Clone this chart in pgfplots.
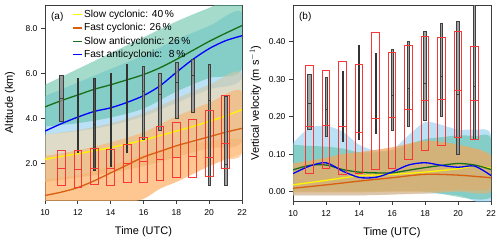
\documentclass[border=0pt]{standalone}
\usepackage{pgfplots}
\pgfplotsset{compat=1.18}
\usepackage{fontspec}
\setmainfont{Liberation Sans}
\definecolor{cyel}{RGB}{255,245,0}
\definecolor{corg}{RGB}{215,95,15}
\definecolor{cgrn}{RGB}{25,110,25}
\definecolor{cblu}{RGB}{0,0,255}
\definecolor{bblu}{RGB}{120,195,240}
\definecolor{bgrn}{RGB}{90,190,160}
\definecolor{byel}{RGB}{205,200,170}
\definecolor{btan}{RGB}{205,170,110}
\definecolor{borg}{RGB}{253,170,90}
\definecolor{redbx}{RGB}{250,55,55}
\definecolor{axc}{RGB}{60,60,60}
% box: #1 position, #2 low, #3 median, #4 high, #5 width
\newcommand{\boxat}[6]{%
  \pgfmathsetmacro{\xl}{#1-#5/2}\pgfmathsetmacro{\xr}{#1+#5/2}%
  \addplot[#6, forget plot] coordinates {(\xl,#2)(\xr,#2)(\xr,#4)(\xl,#4)} -- cycle;
  \addplot[#6, fill=none, forget plot] coordinates {(\xl,#3)(\xr,#3)};
}
\newcommand{\rbox}[4]{\boxat{#1}{#2}{#3}{#4}{0.47}{draw=redbx, line width=0.8pt}}
\newcommand{\kbox}[5]{\boxat{#1}{#2}{#3}{#4}{#5}{draw=black!75, line width=0.6pt, fill=black!45, fill opacity=0.8}}
\newcommand{\dbox}[5]{\boxat{#1}{#2}{#3}{#4}{#5}{draw=black!80, line width=0.6pt, fill=black!70, fill opacity=0.9}}
\pgfplotsset{
  common/.style={
    scale only axis, xmin=10, xmax=22, xtick={10,12,...,22},
    tick align=outside, xtick pos=bottom, ytick pos=left,
    major tick length=4pt,
    axis line style={draw=axc, line width=0.8pt},
    tick style={draw=axc, line width=0.8pt},
    tick label style={font=\fontsize{8.5}{10}\selectfont},
    xticklabel shift=2pt,
    /pgf/number format/assume math mode=true,
    label style={font=\fontsize{11}{13}\selectfont},
    xlabel={Time (UTC)},
    x label style={at={(axis description cs:0.5,-0.16)}, anchor=center},
  },
  band/.style={draw=none, smooth, forget plot},
  ln/.style={line width=1.3pt, smooth, forget plot},
}
\begin{document}
\begin{tikzpicture}
% ---------------- panel (a)
\begin{axis}[common, at={(45pt,42pt)}, anchor=south west,
  width=197pt, height=195pt, ymin=0.4, ymax=9.03, ytick={2,4,6,8},
  yticklabel style={/pgf/number format/.cd, fixed, fixed zerofill, precision=1},
  ylabel={Altitude (km)},
  y label style={at={(axis description cs:-0.178,0.5)}, anchor=center},
  legend style={at={(axis description cs:0.14,0.98)}, anchor=north west, draw=none, fill=none,
    font=\fontsize{10.2}{11}\selectfont, inner sep=0pt, row sep=2.5pt, nodes={inner sep=1pt}},
  legend cell align=left,
  legend image code/.code={\draw[#1] (0pt,0pt) -- (9pt,0pt);},
]
% blue band
\addplot[band, fill=bblu, fill opacity=0.5] coordinates {(10,5.0)(12,5.6)(14,6.2)(16,6.8)(18,7.5)(20,8.1)(22,8.7)(22,5.8)(20,5.3)(18,4.7)(16,4.1)(14,3.7)(12,3.45)(10,3.3)} -- cycle;
% green band
\addplot[band, fill=bgrn, fill opacity=0.55] coordinates {(10,5.5)(12,6.2)(14,6.9)(16,7.6)(18,8.3)(20,8.9)(22,9.4)(22,6.2)(20,5.8)(18,5.2)(16,4.45)(14,4.05)(12,3.8)(10,3.65)} -- cycle;
% yellow band
\addplot[band, fill=byel, fill opacity=0.65] coordinates {(10,3.3)(12,3.5)(14,3.8)(16,4.25)(18,4.9)(20,5.5)(22,6.0)(22,3.0)(20,2.7)(18,2.3)(16,1.9)(14,1.6)(12,1.4)(10,1.2)} -- cycle;
% orange band (outer and inner)
\addplot[band, fill=borg, fill opacity=0.5] coordinates {(10,2.35)(12,2.6)(14,2.95)(16,3.4)(18,4.1)(20,4.7)(22,5.2)(22,2.5)(21,2.2)(20,1.9)(19,1.55)(18,1.2)(17,0.9)(16,0.45)(15,0.3)(14,0.2)(12,0.1)(10,0.0)} -- cycle;
\addplot[band, fill=borg, fill opacity=0.35] coordinates {(10,1.3)(12,1.5)(14,1.9)(16,2.4)(18,2.8)(20,3.0)(22,3.1)(22,2.5)(21,2.2)(20,1.9)(19,1.55)(18,1.2)(17,0.9)(16,0.45)(15,0.3)(14,0.2)(12,0.1)(10,0.0)} -- cycle;
% lines
\addplot[ln, cyel] coordinates {(10,2.2)(11,2.33)(12,2.45)(13,2.58)(14,2.72)(15,2.88)(16,3.05)(17,3.25)(18,3.45)(19,3.65)(20,3.88)(21,4.12)(22,4.4)};
\addplot[ln, corg] coordinates {(10,0.6)(11,0.75)(12,0.95)(13,1.25)(14,1.6)(15,1.95)(16,2.3)(17,2.55)(18,2.8)(19,3.0)(20,3.2)(21,3.4)(22,3.57)};
\addplot[ln, cgrn] coordinates {(10,4.52)(11,4.8)(12,5.05)(13,5.3)(14,5.5)(15,5.72)(16,5.95)(17,6.25)(18,6.62)(19,7.02)(20,7.42)(21,7.78)(22,8.12)};
\addplot[ln, cblu] coordinates {(10,3.45)(11,3.78)(12,4.07)(13,4.32)(14,4.48)(15,4.72)(16,5.02)(17,5.45)(18,6.05)(19,6.62)(20,7.1)(21,7.45)(22,7.67)};
% black boxes
\kbox{11}{3.9}{4.9}{5.9}{0.28}
\dbox{12}{2.5}{4.5}{5.8}{0.07}
\dbox{13}{1.7}{3.75}{5.8}{0.07}
\dbox{14}{1.9}{4.0}{6.0}{0.08}
\dbox{15}{2.5}{4.95}{6.4}{0.08}
\kbox{16}{3.1}{5.2}{6.3}{0.12}
\kbox{17}{3.5}{5.1}{6.0}{0.16}
\kbox{18}{4.0}{5.6}{6.5}{0.18}
\kbox{19}{4.3}{5.9}{6.62}{0.16}
\kbox{20}{1.05}{4.8}{6.42}{0.14}
\kbox{21}{1.05}{2.0}{5.0}{0.15}
% red boxes
\rbox{11}{1.05}{1.8}{2.6}
\rbox{12}{0.95}{1.75}{2.6}
\rbox{13}{1.1}{1.8}{2.7}
\rbox{14}{1.05}{1.8}{2.65}
\rbox{15}{1.2}{2.0}{2.85}
\rbox{16}{1.2}{2.1}{3.15}
\rbox{17}{1.25}{2.2}{3.65}
\rbox{18}{1.4}{2.3}{3.85}
\rbox{19}{1.4}{2.35}{3.95}
\rbox{20}{1.45}{2.3}{4.35}
\rbox{21}{1.8}{2.9}{5.05}
\addlegendimage{cyel, line width=1.3pt}
\addlegendentry{Slow cyclonic: 40\,\%}
\addlegendimage{corg, line width=1.3pt}
\addlegendentry{Fast cyclonic: 26\,\%}
\addlegendimage{cgrn, line width=1.3pt}
\addlegendentry{Slow anticyclonic: 26\,\%}
\addlegendimage{cblu, line width=1.3pt}
\addlegendentry{Fast anticyclonic: \ 8\,\%}
\node[anchor=north west, font=\fontsize{10}{12}\selectfont, inner sep=0pt] at (rel axis cs:0.03,0.965) {(a)};
\end{axis}
% ---------------- panel (b)
\begin{axis}[common, at={(293pt,41pt)}, anchor=south west,
  width=198pt, height=196pt, ymin=-0.025, ymax=0.4975, ytick={0,0.1,0.2,0.3,0.4},
  yticklabel style={/pgf/number format/.cd, fixed, fixed zerofill, precision=2},
  ylabel={Vertical velocity (m s$^{-1}$)},
  y label style={at={(axis description cs:-0.19,0.5)}, anchor=center},
]
\addplot[band, fill=bblu, fill opacity=0.5] coordinates {(10,0.13)(11,0.17)(12,0.175)(13,0.16)(14,0.125)(15,0.11)(16,0.112)(17,0.15)(18,0.185)(19,0.178)(20,0.165)(21,0.165)(22,0.15)(22,-0.025)(20,-0.01)(18,-0.005)(14,-0.01)(10,-0.01)} -- cycle;
\addplot[band, fill=bgrn, fill opacity=0.55] coordinates {(10,0.125)(11,0.122)(12,0.12)(13,0.115)(14,0.105)(15,0.105)(16,0.11)(17,0.125)(18,0.14)(19,0.145)(20,0.15)(21,0.148)(22,0.14)(22,-0.015)(18,0.0)(14,0.0)(10,0.0)} -- cycle;
\addplot[band, fill=btan, fill opacity=0.5] coordinates {(10,0.075)(12,0.09)(13,0.1)(14,0.105)(16,0.118)(18,0.135)(20,0.125)(22,0.095)(22,0.01)(20,0.005)(18,0.0)(16,0.0)(14,-0.002)(12,-0.002)(10,-0.002)} -- cycle;
\addplot[band, fill=borg, fill opacity=0.5] coordinates {(10,0.075)(12,0.09)(13,0.1)(14,0.105)(16,0.118)(18,0.135)(20,0.125)(22,0.095)(22,0.0)(20,0.0)(18,-0.005)(16,-0.008)(14,-0.01)(12,-0.01)(10,-0.01)} -- cycle;
% lines
\addplot[ln, cyel] coordinates {(10,0.018)(12,0.03)(14,0.042)(16,0.046)(18,0.052)(20,0.061)(21,0.068)(22,0.062)};
\addplot[ln, corg] coordinates {(10,0.009)(12,0.018)(14,0.028)(16,0.037)(18,0.046)(20,0.044)(22,0.037)};
\addplot[ln, cgrn] coordinates {(10,0.058)(11,0.07)(12,0.071)(13,0.059)(14,0.052)(15,0.05)(16,0.05)(17,0.057)(18,0.064)(19,0.07)(20,0.075)(21,0.071)(22,0.059)};
\addplot[ln, cblu] coordinates {(10,0.048)(11,0.068)(12,0.077)(13,0.055)(14,0.038)(15,0.038)(16,0.052)(17,0.071)(18,0.077)(19,0.07)(20,0.065)(21,0.068)(22,0.043)};
% black boxes
\kbox{11}{0.167}{0.235}{0.312}{0.25}
\kbox{12}{0.148}{0.219}{0.305}{0.14}
\dbox{13}{0.135}{0.2}{0.322}{0.06}
\dbox{14}{0.139}{0.24}{0.39}{0.07}
\dbox{15}{0.155}{0.245}{0.37}{0.07}
\kbox{16}{0.163}{0.257}{0.38}{0.12}
\kbox{17}{0.174}{0.276}{0.402}{0.12}
\kbox{18}{0.19}{0.29}{0.428}{0.18}
\kbox{19}{0.2}{0.307}{0.45}{0.1}
\kbox{20}{0.1}{0.26}{0.455}{0.16}
\kbox{21}{0.14}{0.28}{0.52}{0.1}
% red boxes
\rbox{11}{0.049}{0.174}{0.336}
\rbox{12}{0.062}{0.176}{0.323}
\rbox{13}{0.046}{0.174}{0.347}
\rbox{14}{0.049}{0.159}{0.34}
\rbox{15}{0.059}{0.195}{0.425}
\rbox{16}{0.061}{0.199}{0.371}
\rbox{17}{0.085}{0.22}{0.389}
\rbox{18}{0.109}{0.242}{0.413}
\rbox{19}{0.123}{0.247}{0.41}
\rbox{20}{0.145}{0.269}{0.427}
\rbox{21}{0.139}{0.244}{0.387}
\node[anchor=north west, font=\fontsize{10}{12}\selectfont, inner sep=0pt] at (rel axis cs:0.03,0.965) {(b)};
\end{axis}
\path (0,0) rectangle (500pt,242pt);
\end{tikzpicture}
\end{document}
